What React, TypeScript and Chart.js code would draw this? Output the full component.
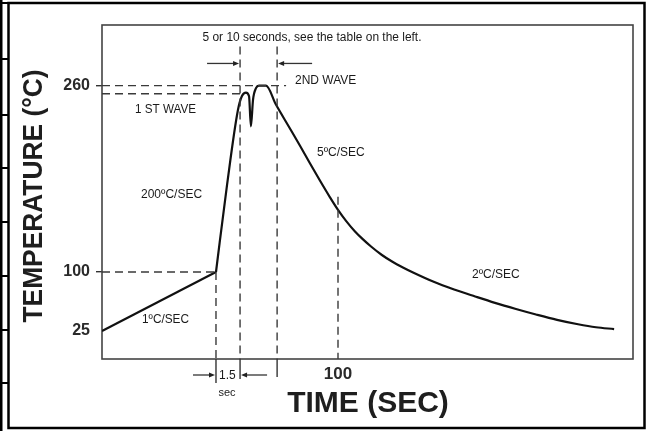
import React, { useEffect, useRef } from "react";
import { Chart, LinearScale, registerables } from "chart.js";

// ---------- data ----------
const PREHEAT_TIME = [0, 48.3];
const PREHEAT_TEMP = [25, 100];

const PROFILE_TIME = [
  48.3, 53.0, 57.6, 59.3, 61.0, 62.3, 63.1, 64.0, 65.3, 66.5, 69.5, 73.7,
  79.2, 83.9, 88.1, 92.4, 96.6, 100, 103.4, 107.2, 110.6, 114.0, 118.6, 122.9,
  127.5, 131.8, 140.3, 149.2, 158.1, 166.5, 175.4, 183.9, 192.8, 201.7, 209.3, 217,
];
const PROFILE_TEMP = [
  100, 175, 239, 251, 254, 251, 225, 248, 258, 260, 260, 243.7,
  224.7, 208.4, 193.3, 178.3, 164.1, 153.3, 143.9, 134.8, 128.0, 121.9, 114.6, 109.0,
  103.9, 99.4, 87.9, 77.8, 68.9, 60.8, 53.0, 46.0, 39.2, 33.6, 29.8, 27.5,
];

const Y_TICKS = [25, 100, 260];
const X_TICKS = [100];

const PEAK_TEMP = 260;
const FIRST_WAVE_TEMP = 253;
const PREHEAT_END_TEMP = 100;
const PREHEAT_END_TIME = 48.3;
const WAVE_START_TIME = 58.5;
const WAVE_END_TIME = 74.2;
const MARK_100_TIME = 100;
const PEAK_LINE_END_TIME = 78;
const WAVE_LINE_TOP_TEMP = 293.5;
const MARK_100_TOP_TEMP = 164.5;
const ARROW_TEMP = 279;

const TEXT_TOP = "5 or 10 seconds, see the table on the left.";
const TEXT_2ND = "2ND WAVE";
const TEXT_1ST = "1 ST WAVE";
const TEXT_5 = "5ºC/SEC";
const TEXT_200 = "200ºC/SEC";
const TEXT_2 = "2ºC/SEC";
const TEXT_1 = "1ºC/SEC";
const TEXT_15 = "1.5";
const TEXT_SEC = "sec";
const Y_TITLE = "TEMPERATURE (°C)";
const X_TITLE = "TIME (SEC)";

// ---------- piecewise (schematic) temperature scale ----------
const Y_BREAKS = [0, 25, 100, 312];
const Y_FRACS = [0, 0.0838, 0.2605, 1];

function toFrac(v: number) {
  const b = Y_BREAKS, f = Y_FRACS;
  if (v <= b[0]) return f[0] + ((v - b[0]) * (f[1] - f[0])) / (b[1] - b[0]);
  for (let i = 0; i < b.length - 1; i++) {
    if (v <= b[i + 1] || i === b.length - 2) {
      return f[i] + ((v - b[i]) * (f[i + 1] - f[i])) / (b[i + 1] - b[i]);
    }
  }
  return 1;
}
function fromFrac(d: number) {
  const b = Y_BREAKS, f = Y_FRACS;
  for (let i = 0; i < f.length - 1; i++) {
    if (d <= f[i + 1] || i === f.length - 2) {
      return b[i] + ((d - f[i]) * (b[i + 1] - b[i])) / (f[i + 1] - f[i]);
    }
  }
  return b[b.length - 1];
}

class PiecewiseScale extends LinearScale {
  static id = "piecewise";
  static defaults = { ...(LinearScale as any).defaults };
  getPixelForValue(value: number) {
    return (this as any).getPixelForDecimal(toFrac(value));
  }
  getValueForPixel(pixel: number) {
    return fromFrac((this as any).getDecimalForPixel(pixel));
  }
}

Chart.register(...registerables, PiecewiseScale as any);

const FONT = '"Liberation Sans", Arial, Helvetica, sans-serif';

function pts(xs: number[], ys: number[]) {
  return xs.map((x, i) => ({ x, y: ys[i] }));
}

function arrow(ctx: CanvasRenderingContext2D, x1: number, y: number, x2: number) {
  const dir = Math.sign(x2 - x1);
  ctx.beginPath();
  ctx.moveTo(x1, y);
  ctx.lineTo(x2 - dir * 4, y);
  ctx.stroke();
  ctx.beginPath();
  ctx.moveTo(x2, y);
  ctx.lineTo(x2 - dir * 6, y - 2.5);
  ctx.lineTo(x2 - dir * 6, y + 2.5);
  ctx.closePath();
  ctx.fill();
}

const decor = {
  id: "decor",
  beforeDatasetsDraw(chart: any) {
    const { ctx, chartArea: a } = chart;
    ctx.save();
    ctx.strokeStyle = "#444";
    ctx.lineWidth = 1.6;
    ctx.strokeRect(a.left, a.top, a.right - a.left, a.bottom - a.top);
    ctx.restore();
  },
  afterDraw(chart: any) {
    const { ctx, chartArea: a, scales } = chart;
    const xs = scales.x, ys = scales.y;
    ctx.save();

    // extensions of marker lines below the time axis
    ctx.strokeStyle = "#333";
    ctx.fillStyle = "#222";
    ctx.lineWidth = 1.4;
    const ext: [number, number][] = [
      [PREHEAT_END_TIME, 24],
      [WAVE_START_TIME, 20],
      [WAVE_END_TIME, 18],
    ];
    ext.forEach(([t, len]) => {
      const x = xs.getPixelForValue(t);
      ctx.beginPath();
      ctx.moveTo(x, a.bottom);
      ctx.lineTo(x, a.bottom + len);
      ctx.stroke();
    });

    // arrows at the top (wave window)
    const xw1 = xs.getPixelForValue(WAVE_START_TIME);
    const xw2 = xs.getPixelForValue(WAVE_END_TIME);
    const ya = ys.getPixelForValue(ARROW_TEMP);
    ctx.lineWidth = 1.3;
    arrow(ctx, xw1 - 33, ya, xw1 - 1);
    arrow(ctx, xw2 + 35, ya, xw2 + 1);

    // arrows at the bottom (1.5 sec)
    const xp = xs.getPixelForValue(PREHEAT_END_TIME);
    const yb = a.bottom + 16;
    arrow(ctx, xp - 23, yb, xp - 1);
    arrow(ctx, xw1 + 27, yb, xw1 + 1);

    // small annotation texts
    ctx.fillStyle = "#1a1a1a";
    ctx.textBaseline = "middle";
    ctx.font = `12px ${FONT}`;
    ctx.textAlign = "center";
    ctx.fillText(TEXT_TOP, 312, 38, 219);
    ctx.textAlign = "left";
    ctx.fillText(TEXT_2ND, 295, 81, 62);
    ctx.fillText(TEXT_1ST, 135, 110, 61);
    ctx.fillText(TEXT_5, 317, 153, 49);
    ctx.fillText(TEXT_200, 141, 195, 62);
    ctx.fillText(TEXT_2, 472, 275, 48);
    ctx.fillText(TEXT_1, 142, 320, 47);
    ctx.fillText(TEXT_15, xp + 3, yb + 1);
    ctx.font = `11px ${FONT}`;
    ctx.textAlign = "center";
    ctx.fillText(TEXT_SEC, 227, 393);

    // axis titles
    ctx.fillStyle = "#1e1e1e";
    ctx.font = `bold 30px ${FONT}`;
    ctx.textAlign = "center";
    ctx.fillText(X_TITLE, 368, 404, 165);
    ctx.save();
    ctx.translate(35, 196);
    ctx.rotate(-Math.PI / 2);
    ctx.font = `bold 27px ${FONT}`;
    ctx.fillText(Y_TITLE, 0, 0, 253);
    ctx.restore();

    // outer frame and table fragments at the left edge
    ctx.strokeStyle = "#000";
    ctx.lineWidth = 2.5;
    ctx.strokeRect(8.5, 3, 636, 425);
    ctx.fillStyle = "#000";
    ctx.fillRect(0, 0, 2.5, 431);
    ctx.fillRect(0, 2, 9, 2);
    [59, 115, 168, 222, 276, 330, 383].forEach((y) => ctx.fillRect(0, y - 1, 9, 2));

    ctx.restore();
  },
};

function dashed(data: { x: number; y: number }[]) {
  return {
    data,
    borderColor: "#3a3a3a",
    borderWidth: 1.4,
    borderDash: [8, 5],
    pointRadius: 0,
    fill: false,
    tension: 0,
  };
}

export default function App() {
  const ref = useRef<HTMLCanvasElement | null>(null);

  useEffect(() => {
    const canvas = ref.current;
    if (!canvas) return;
    const chart = new Chart(canvas, {
      type: "line",
      data: {
        datasets: [
          dashed(pts([0, PEAK_LINE_END_TIME], [PEAK_TEMP, PEAK_TEMP])),
          dashed(pts([0, WAVE_START_TIME], [FIRST_WAVE_TEMP, FIRST_WAVE_TEMP])),
          dashed(pts([0, PREHEAT_END_TIME], [PREHEAT_END_TEMP, PREHEAT_END_TEMP])),
          dashed(pts([PREHEAT_END_TIME, PREHEAT_END_TIME], [PREHEAT_END_TEMP, 0])),
          dashed(pts([WAVE_START_TIME, WAVE_START_TIME], [WAVE_LINE_TOP_TEMP, 0])),
          dashed(pts([WAVE_END_TIME, WAVE_END_TIME], [WAVE_LINE_TOP_TEMP, 0])),
          dashed(pts([MARK_100_TIME, MARK_100_TIME], [MARK_100_TOP_TEMP, 0])),
          {
            data: pts(PREHEAT_TIME, PREHEAT_TEMP),
            borderColor: "#111",
            borderWidth: 2.2,
            pointRadius: 0,
            tension: 0,
          },
          {
            data: pts(PROFILE_TIME, PROFILE_TEMP),
            borderColor: "#111",
            borderWidth: 2.2,
            pointRadius: 0,
            cubicInterpolationMode: "monotone",
          },
        ] as any,
      },
      options: {
        animation: false,
        responsive: false,
        events: [],
        layout: { padding: { left: 0, top: 25, right: 14, bottom: 0 } },
        plugins: { legend: { display: false }, tooltip: { enabled: false } },
        scales: {
          x: {
            type: "linear",
            min: 0,
            max: 225,
            afterBuildTicks: (s: any) => {
              s.ticks = X_TICKS.map((v) => ({ value: v }));
            },
            afterFit: (s: any) => {
              s.height = 72;
            },
            grid: { display: false, drawTicks: false },
            border: { display: false },
            ticks: {
              autoSkip: false,
              maxRotation: 0,
              padding: 5,
              color: "#2a2a2a",
              font: { family: FONT, size: 17, weight: "bold" },
            },
          },
          y: {
            type: "piecewise" as any,
            min: 0,
            max: 312,
            afterBuildTicks: (s: any) => {
              s.ticks = Y_TICKS.map((v) => ({ value: v }));
            },
            afterFit: (s: any) => {
              s.width = 102;
            },
            grid: {
              drawOnChartArea: false,
              drawTicks: true,
              tickLength: 6,
              lineWidth: 1.4,
              color: (c: any) => (c.tick && c.tick.value === 25 ? "rgba(0,0,0,0)" : "#333"),
            },
            border: { display: false },
            ticks: {
              autoSkip: false,
              padding: 6,
              color: "#2a2a2a",
              font: { family: FONT, size: 16, weight: "bold" },
            },
          } as any,
        },
      },
      plugins: [decor as any],
    });
    return () => chart.destroy();
  }, []);

  return (
    <div
      style={{
        position: "fixed",
        left: 0,
        top: 0,
        width: 647,
        height: 431,
        background: "#fff",
      }}
    >
      <canvas ref={ref} width={647} height={431} style={{ width: 647, height: 431, display: "block" }} />
    </div>
  );
}
